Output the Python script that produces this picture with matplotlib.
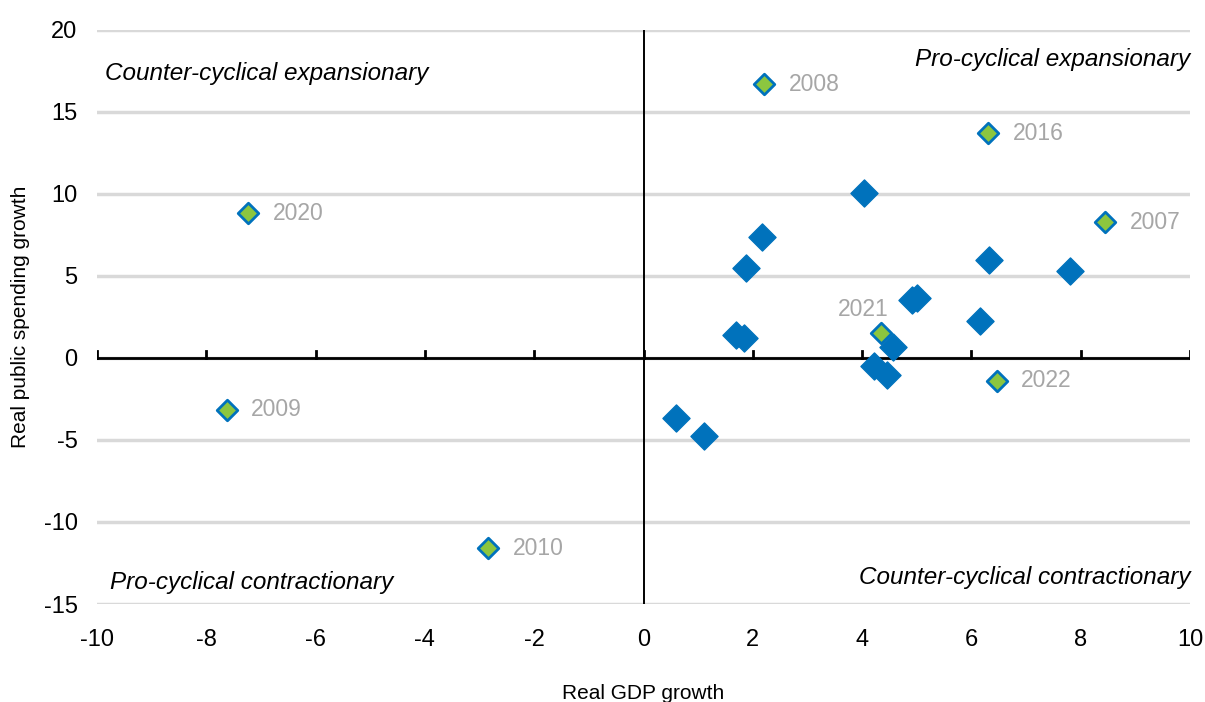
import matplotlib
matplotlib.use("Agg")
import matplotlib.pyplot as plt
from matplotlib import font_manager

# regular years (blue diamonds)
gdp = [1.70, 1.83, 1.87, 2.16, 4.03, 4.21, 4.45, 4.57, 4.92, 5.01, 6.15, 6.33, 7.81, 0.59, 1.10]
spend = [1.40, 1.22, 5.50, 7.40, 10.06, -0.49, -1.04, 0.67, 3.54, 3.66, 2.26, 5.98, 5.30, -3.66, -4.76]

# highlighted years (green diamonds)
hl_years = ["2008", "2016", "2007", "2020", "2009", "2010", "2021", "2022"]
hl_gdp = [2.21, 6.31, 8.45, -7.23, -7.63, -2.84, 4.34, 6.46]
hl_spend = [16.70, 13.70, 8.29, 8.84, -3.17, -11.60, 1.52, -1.40]

quadrants = ["Counter-cyclical expansionary", "Pro-cyclical expansionary",
             "Pro-cyclical contractionary", "Counter-cyclical contractionary"]

BLUE = "#0072BC"
GREEN = "#8CC63F"
GREY = "#A6A6A6"

names = {f.name for f in font_manager.fontManager.ttflist}
FONT = "Liberation Sans Narrow" if "Liberation Sans Narrow" in names else "Liberation Sans"
plt.rcParams["font.family"] = [FONT, "DejaVu Sans"]
plt.rcParams["axes.unicode_minus"] = False

fig = plt.figure(figsize=(12.05, 7.02), dpi=100)
ax = fig.add_axes([0.0805, 0.1396, 0.9071, 0.8177])

ax.set_xlim(-10, 10)
ax.set_ylim(-15, 20)
ax.set_yticks(range(-15, 21, 5))
ax.set_xticks(range(-10, 11, 2))
for s in ax.spines.values():
    s.set_visible(False)
ax.grid(axis="y", color="#D9D9D9", linewidth=2.5)
ax.set_axisbelow(True)
ax.tick_params(length=0, labelsize=17, pad=14)
ax.tick_params(axis="x", pad=18)

ax.axhline(0, color="black", linewidth=2, zorder=2)
ax.axvline(0, color="black", linewidth=1.4, zorder=2)
for xt in range(-10, 11, 2):
    ax.plot([xt, xt], [0, 0.45], color="black", linewidth=2, zorder=2)

ax.scatter(gdp, spend, marker="D", s=190, color=BLUE, edgecolors=BLUE, linewidths=1, zorder=3)
ax.scatter(hl_gdp, hl_spend, marker="D", s=110, color=GREEN, edgecolors=BLUE, linewidths=2, zorder=4)

for yr, gx, sy in zip(hl_years, hl_gdp, hl_spend):
    if yr == "2021":
        ax.text(gx + 0.15, sy + 1.45, yr, color=GREY, fontsize=16.5, ha="right", va="center")
    else:
        ax.text(gx + 0.45, sy, yr, color=GREY, fontsize=16.5, ha="left", va="center")

qkw = dict(fontsize=17.5, style="italic", color="black", transform=ax.transAxes)
ax.text(0.007, 0.925, quadrants[0], ha="left", va="center", **qkw)
ax.text(1.0, 0.948, quadrants[1], ha="right", va="center", **qkw)
ax.text(0.012, 0.037, quadrants[2], ha="left", va="center", **qkw)
ax.text(1.0, 0.047, quadrants[3], ha="right", va="center", **qkw)

ax.set_ylabel("Real public spending growth", fontsize=15, labelpad=10)
ax.set_xlabel("Real GDP growth", fontsize=15, labelpad=24)

fig.savefig("out.png", dpi=100)
